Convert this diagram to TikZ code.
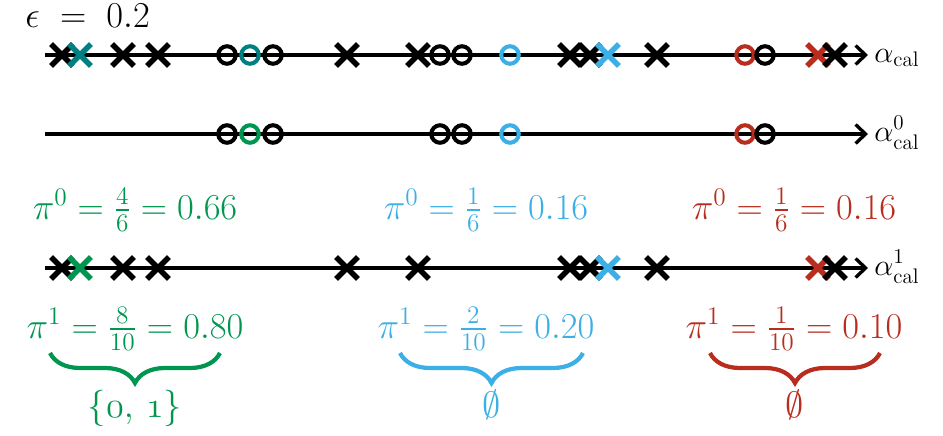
\documentclass[tikz,border=0pt]{standalone}
\usepackage{amsmath}
\usetikzlibrary{arrows.meta,positioning,shapes.misc,decorations.pathreplacing}
\definecolor{cgreen}{RGB}{0,150,80}
\definecolor{cteal}{RGB}{0,128,128}
\definecolor{cblue}{RGB}{60,175,230}
\definecolor{cred}{RGB}{185,45,30}

\begin{document}
\begin{tikzpicture}[x=0.02cm, y=-0.02cm,
  font=\fontsize{22}{26}\selectfont, >={Straight Barb[length=2mm, width=3.8mm]},
  axis/.style={->, line width=1.9pt},
  axlab/.style={anchor=base west, inner sep=0pt, font=\LARGE},
  crs/.style={cross out, draw, line width=3.1pt, minimum size=0.33cm, inner sep=0pt},
  rng/.style={circle, draw, line width=2.3pt, minimum size=0.35cm, inner sep=0pt},
  pilab/.style={anchor=base, inner sep=0pt},
  brc/.style={decorate, decoration={brace, mirror, amplitude=0.6cm}, line width=2.4pt}]
  \useasboundingbox (0,0) rectangle (943,436);
  \node[anchor=base west, inner sep=0pt] (eps) at (25,28) {$\epsilon\;=\;0.2$};
  % the three axes
  \coordinate (a1s) at (45,55);  \coordinate (a1e) at (868,55);
  \coordinate (a2s) at (45,134); \coordinate (a2e) at (868,134);
  \coordinate (a3s) at (45,268); \coordinate (a3e) at (868,268);
  \draw[axis] (a1s) -- (a1e);
  \draw[axis] (a2s) -- (a2e);
  \draw[axis] (a3s) -- (a3e);
  \node[axlab] (a1l) at (874,62)  {$\alpha_{\mathrm{cal}}$};
  \node[axlab] (a2l) at (874,141) {$\alpha^{0}_{\mathrm{cal}}$};
  \node[axlab] (a3l) at (874,275) {$\alpha^{1}_{\mathrm{cal}}$};
  % all scores
  \foreach \p/\s/\c [count=\k] in {62/crs/black, 80/crs/cteal, 123/crs/black, 158/crs/black,
      227/rng/black, 250/rng/cteal, 273/rng/black, 347/crs/black, 418/crs/black,
      440/rng/black, 462/rng/black, 510/rng/cblue, 570/crs/black, 590/crs/black,
      608/crs/cblue, 657/crs/black, 745/rng/cred, 765/rng/black, 818/crs/cred, 835/crs/black}
    {\node[\s, draw=\c] (m1-\k) at (\p,55) {};}
  % class 0
  \foreach \p/\c [count=\k] in {227/black, 250/cgreen, 273/black, 440/black, 462/black,
      510/cblue, 745/cred, 765/black}
    {\node[rng, draw=\c] (m2-\k) at (\p,134) {};}
  % class 1
  \foreach \p/\c [count=\k] in {62/black, 80/cgreen, 123/black, 158/black, 347/black,
      418/black, 570/black, 590/black, 608/cblue, 657/black, 818/cred, 835/black}
    {\node[crs, draw=\c] (m3-\k) at (\p,268) {};}
  % p-values
  \node[pilab, text=cgreen] (p0g) at (135,219) {$\pi^0 = \frac{4}{6} = 0.66$};
  \node[pilab, text=cblue]  (p0b) at (486,219) {$\pi^0 = \frac{1}{6} = 0.16$};
  \node[pilab, text=cred]   (p0r) at (794,219) {$\pi^0 = \frac{1}{6} = 0.16$};
  \node[pilab, text=cgreen] (p1g) at (135,338) {$\pi^1 = \frac{8}{10} = 0.80$};
  \node[pilab, text=cblue]  (p1b) at (486,338) {$\pi^1 = \frac{2}{10} = 0.20$};
  \node[pilab, text=cred]   (p1r) at (794,338) {$\pi^1 = \frac{1}{10} = 0.10$};
  % prediction sets
  \coordinate (bg1) at (50,353);  \coordinate (bg2) at (220,353);
  \coordinate (bb1) at (400,353); \coordinate (bb2) at (583,353);
  \coordinate (br1) at (710,353); \coordinate (br2) at (880,353);
  \draw[brc, cgreen] (bg1) -- (bg2);
  \draw[brc, cblue]  (bb1) -- (bb2);
  \draw[brc, cred]   (br1) -- (br2);
  \node[pilab, text=cgreen] (sg) at (135,417) {$\{\oldstylenums{0},\,\oldstylenums{1}\}$};
  \node[pilab, text=cblue]  (sb) at (492,417) {$\emptyset$};
  \node[pilab, text=cred]   (sr) at (795,417) {$\emptyset$};
\end{tikzpicture}
\end{document}
